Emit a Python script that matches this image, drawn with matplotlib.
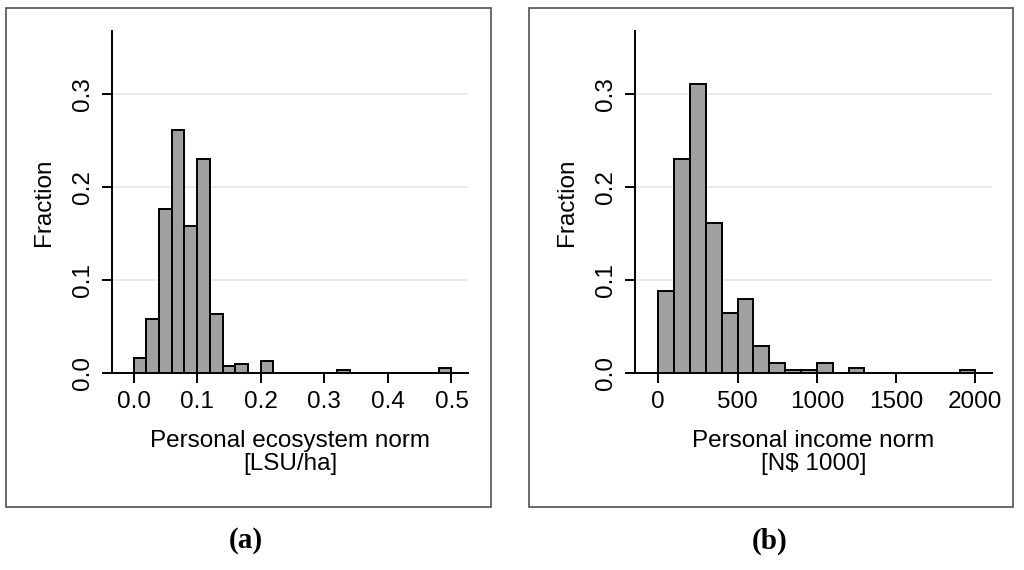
import matplotlib
matplotlib.use("Agg")
import matplotlib.pyplot as plt
from matplotlib.patches import Rectangle

plt.rcParams["font.family"] = ["Liberation Sans", "DejaVu Sans"]

# ------------------------------------------------------------------ #
#  Data
# ------------------------------------------------------------------ #

# (a) personal ecosystem norm, bins of 0.02 LSU/ha starting at 0
eco_bin_width = 0.02
eco_frac = [0.016, 0.058, 0.177, 0.261, 0.158, 0.230, 0.064, 0.008, 0.010,
            0.0, 0.013, 0.0, 0.0, 0.0, 0.0, 0.0, 0.003, 0.0, 0.0, 0.0,
            0.0, 0.0, 0.0, 0.0, 0.005]
eco_ticks = [0.0, 0.1, 0.2, 0.3, 0.4, 0.5]
eco_ticklabels = ["0.0", "0.1", "0.2", "0.3", "0.4", "0.5"]

# (b) personal income norm, bins of 100 (N$ 1000) starting at 0
inc_bin_width = 100
inc_frac = [0.088, 0.230, 0.311, 0.161, 0.065, 0.080, 0.029, 0.011, 0.003,
            0.003, 0.011, 0.0, 0.005, 0.0, 0.0, 0.0, 0.0, 0.0, 0.0, 0.003]
inc_ticks = [0, 500, 1000, 1500, 2000]
inc_ticklabels = ["0", "500", "1000", "1500", "2000"]

frac_ticks = [0.0, 0.1, 0.2, 0.3]
frac_ticklabels = ["0.0", "0.1", "0.2", "0.3"]

BAR_COLOR = "#a0a0a0"
GRID_COLOR = "#e8e8e8"


def draw_hist(ax, frac, width, xticks, xticklabels, xlim, xlabel):
    lefts = [i * width for i in range(len(frac))]
    ax.bar(lefts, frac, width=width, align="edge", color=BAR_COLOR,
           edgecolor="black", linewidth=1.4, zorder=3)
    ax.set_xlim(*xlim)
    ax.set_ylim(0, 0.368)
    ax.set_yticks(frac_ticks)
    ax.set_yticklabels(frac_ticklabels, rotation=90, va="center")
    ax.set_xticks(xticks)
    ax.set_xticklabels(xticklabels)
    for y in frac_ticks[1:]:
        ax.axhline(y, color=GRID_COLOR, linewidth=1.2, zorder=1)
    for side in ("top", "right"):
        ax.spines[side].set_visible(False)
    for side in ("left", "bottom"):
        ax.spines[side].set_linewidth(1.4)
    ax.tick_params(labelsize=17.5, length=7.2, width=1.4, pad=6)
    ax.set_xlabel(xlabel, fontsize=17.5, labelpad=12, linespacing=1.05)
    ax.set_ylabel("Fraction", fontsize=17.5, labelpad=12)


fig = plt.figure(figsize=(10.24, 5.70), dpi=100)

ax_a = fig.add_axes([112 / 1024, 1 - 373 / 570, 356 / 1024, 342 / 570])
ax_b = fig.add_axes([635 / 1024, 1 - 373 / 570, 357 / 1024, 342 / 570])

draw_hist(ax_a, eco_frac, eco_bin_width, eco_ticks, eco_ticklabels,
          (-0.034, 0.526), "Personal ecosystem norm\n[LSU/ha]")
draw_hist(ax_b, inc_frac, inc_bin_width, inc_ticks, inc_ticklabels,
          (-147, 2105), "Personal income norm\n[N$ 1000]")

# panel frames (pixel coords -> figure fraction)
for x0, x1 in [(6, 491), (529, 1013)]:
    fig.patches.append(Rectangle((x0 / 1024, 1 - 507 / 570),
                                 (x1 - x0) / 1024, (507 - 8) / 570,
                                 transform=fig.transFigure, fill=False,
                                 edgecolor="#505050", linewidth=1.2))

fig.text(246 / 1024, 1 - 541 / 570, "(a)", ha="center", va="center",
         fontsize=21, fontweight="bold", family="Liberation Serif")
fig.text(770 / 1024, 1 - 541 / 570, "(b)", ha="center", va="center",
         fontsize=21, fontweight="bold", family="Liberation Serif")

fig.savefig("out.png", dpi=100)
